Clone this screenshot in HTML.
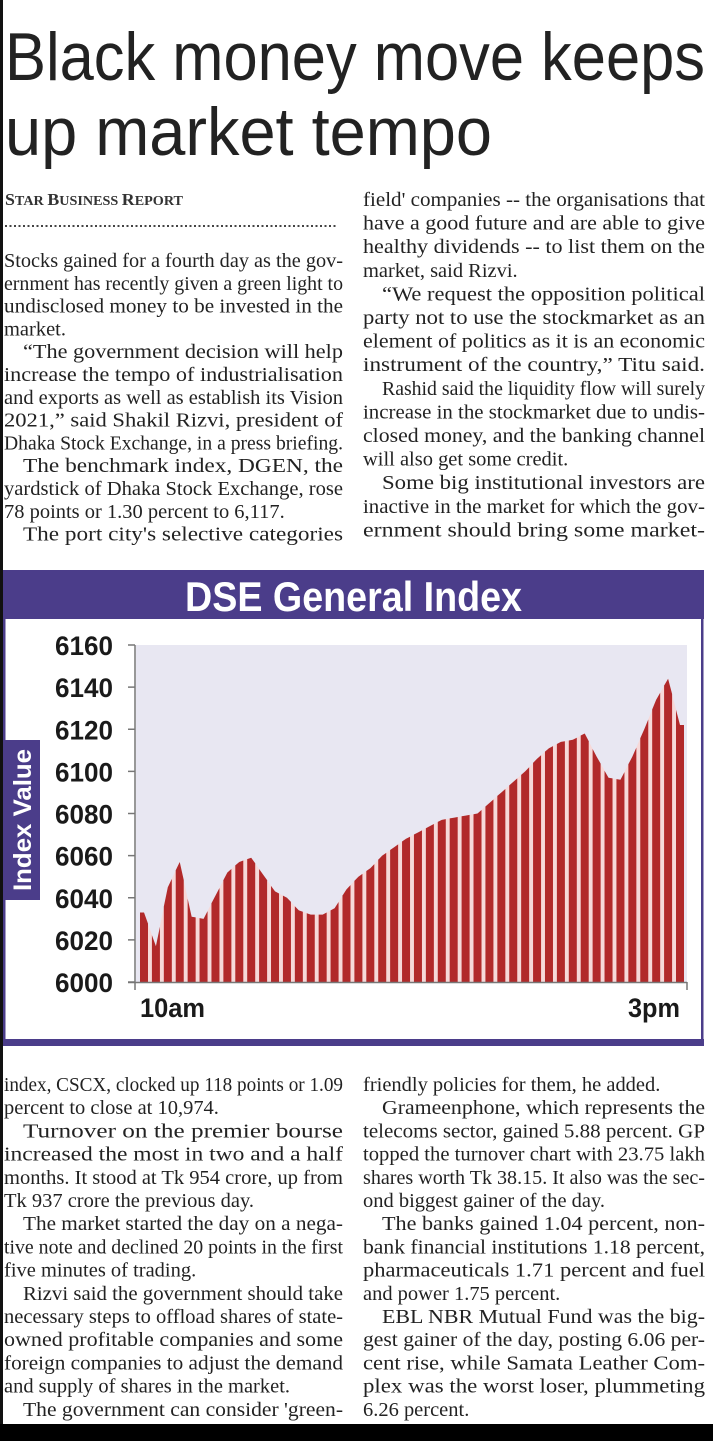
<!DOCTYPE html>
<html><head><meta charset="utf-8"><style>
html,body{margin:0;padding:0;background:#fff;}
svg{display:block;}
.b{font-family:"Liberation Serif",serif;font-size:19.5px;fill:#222;}
.yl{font-family:"Liberation Sans",sans-serif;font-weight:bold;font-size:27px;fill:#1a1a1a;}
</style></head><body>
<svg id="page" width="713" height="1441" viewBox="0 0 713 1441" xmlns="http://www.w3.org/2000/svg">
<rect x="0" y="0" width="3" height="1441" fill="#111"/>
<rect x="0" y="1424" width="713" height="17" fill="#000"/>
<g font-family="'Liberation Sans',sans-serif" fill="#222">
<text x="5" y="80" font-size="68" font-weight="300" textLength="700" lengthAdjust="spacingAndGlyphs">Black money move keeps</text>
<text x="5" y="155" font-size="68" font-weight="300" textLength="487" lengthAdjust="spacingAndGlyphs">up market tempo</text>
</g>
<text x="5" y="205" font-family="'Liberation Serif',serif" font-weight="bold" fill="#333" font-size="17" textLength="178" lengthAdjust="spacingAndGlyphs">S<tspan font-size="13.5">TAR </tspan>B<tspan font-size="13.5">USINESS </tspan>R<tspan font-size="13.5">EPORT</tspan></text>
<line x1="5" y1="226" x2="338" y2="226" stroke="#444" stroke-width="2" stroke-dasharray="2 2.5"/>
<g id="text"></g>

<g id="chart">
<rect x="3" y="570" width="701" height="476" fill="#fff"/>
<rect x="3" y="570" width="2.5" height="476" fill="#4b3d8a"/>
<rect x="701" y="570" width="2.5" height="476" fill="#4b3d8a"/>
<rect x="3" y="570" width="701" height="49" fill="#4b3d8a"/>
<text x="185" y="611" font-family="'Liberation Sans',sans-serif" font-weight="bold" font-size="42" fill="#fff" textLength="337" lengthAdjust="spacingAndGlyphs">DSE General Index</text>
<rect x="3" y="1039" width="701" height="7" fill="#4b3d8a"/>
<rect x="5" y="740" width="35" height="160" fill="#4b3d8a"/>
<text transform="translate(31,820) rotate(-90)" text-anchor="middle" font-family="'Liberation Sans',sans-serif" font-weight="bold" font-size="25" fill="#fff" textLength="142" lengthAdjust="spacingAndGlyphs">Index Value</text>
<rect x="136" y="645" width="551" height="337" fill="#e8e7f2"/>
<g id="marks"></g>
<g id="axes"></g>
<text x="140" y="1017" font-family="'Liberation Sans',sans-serif" font-weight="bold" font-size="27" fill="#1a1a1a" textLength="65" lengthAdjust="spacingAndGlyphs">10am</text>
<text x="628" y="1017" font-family="'Liberation Sans',sans-serif" font-weight="bold" font-size="27" fill="#1a1a1a" textLength="52" lengthAdjust="spacingAndGlyphs">3pm</text>
</g>
</svg>
<script>
const yTicks = [6000, 6020, 6040, 6060, 6080, 6100, 6120, 6140, 6160];
const values = [6033, 6017, 6045, 6057, 6031, 6030, 6041, 6052, 6057, 6059, 6051, 6043, 6040, 6034, 6032, 6032, 6035, 6044, 6050, 6054, 6060, 6064, 6068, 6071, 6074, 6077, 6078, 6079, 6080, 6085, 6090, 6095, 6100, 6106, 6111, 6114, 6115, 6118, 6107, 6097, 6096, 6107, 6120, 6134, 6144, 6122];

const NS = "http://www.w3.org/2000/svg";
const yMin = 6000, yMax = 6160, pTop = 645, pBot = 982;
function y(v){ return pBot - (v - yMin) / (yMax - yMin) * (pBot - pTop); }
const x0 = 144, x1 = 680;
function x(i){ return x0 + i * (x1 - x0) / (values.length - 1); }
function mk(tag, attrs){ const e = document.createElementNS(NS, tag); for (const k in attrs) e.setAttribute(k, attrs[k]); return e; }

const marks = document.getElementById('marks');
let pts = [x(0)-4 + ',' + pBot];
values.forEach((v,i)=>{ pts.push(x(i) + ',' + y(v)); });
pts.push(x(values.length-1)+4 + ',' + pBot);
const under = mk('polygon', {points: pts.join(' '), fill: '#f6d9d9'});


marks.appendChild(under);
values.forEach((v,i)=>{
  const prev = i > 0 ? values[i-1] : v, next = i < values.length-1 ? values[i+1] : v;
  const vl = v + (prev - v) * 0.33, vr = v + (next - v) * 0.33;
  const cx = x(i), w = 4;
  const p = mk('polygon', {points: `${cx-w},${pBot} ${cx-w},${y(vl)} ${cx},${y(v)} ${cx+w},${y(vr)} ${cx+w},${pBot}`, fill: '#b1292a'});
  
  
  marks.appendChild(p);
});
const axes = document.getElementById('axes');
axes.appendChild(mk('line', {x1:135, y1:pTop, x2:135, y2:990, stroke:'#777', 'stroke-width':1.5}));
axes.appendChild(mk('line', {x1:128, y1:pBot+0.5, x2:687, y2:pBot+0.5, stroke:'#777', 'stroke-width':1.5}));
axes.appendChild(mk('line', {x1:687, y1:pBot, x2:687, y2:990, stroke:'#777', 'stroke-width':1.5}));
yTicks.forEach(t=>{
  axes.appendChild(mk('line', {x1:128, y1:y(t), x2:135, y2:y(t), stroke:'#777', 'stroke-width':1.5}));
  const tx = mk('text', {x:113, y:y(t)+10, 'text-anchor':'end', class:'yl', textLength:58, lengthAdjust:'spacingAndGlyphs'});
  tx.textContent = t;
  
  
  axes.appendChild(tx);
});

const colUL = [["Stocks gained for a fourth day as the gov-",0,1],["ernment has recently given a green light to",0,1],["undisclosed money to be invested in the",0,1],["market.",0,0],["“The government decision will help",1,1],["increase the tempo of industrialisation",0,1],["and exports as well as establish its Vision",0,1],["2021,” said Shakil Rizvi, president of",0,1],["Dhaka Stock Exchange, in a press briefing.",0,1],["The benchmark index, DGEN, the",1,1],["yardstick of Dhaka Stock Exchange, rose",0,1],["78 points or 1.30 percent to 6,117.",0,0],["The port city's selective categories",1,1]];
const colUR = [["field' companies -- the organisations that",0,1],["have a good future and are able to give",0,1],["healthy dividends -- to list them on the",0,1],["market, said Rizvi.",0,0],["“We request the opposition political",1,1],["party not to use the stockmarket as an",0,1],["element of politics as it is an economic",0,1],["instrument of the country,” Titu said.",0,1],["Rashid said the liquidity flow will surely",1,1],["increase in the stockmarket due to undis-",0,1],["closed money, and the banking channel",0,1],["will also get some credit.",0,0],["Some big institutional investors are",1,1],["inactive in the market for which the gov-",0,1],["ernment should bring some market-",0,1]];
const colLL = [["index, CSCX, clocked up 118 points or 1.09",0,1],["percent to close at 10,974.",0,0],["Turnover on the premier bourse",1,1],["increased the most in two and a half",0,1],["months. It stood at Tk 954 crore, up from",0,1],["Tk 937 crore the previous day.",0,0],["The market started the day on a nega-",1,1],["tive note and declined 20 points in the first",0,1],["five minutes of trading.",0,0],["Rizvi said the government should take",1,1],["necessary steps to offload shares of state-",0,1],["owned profitable companies and some",0,1],["foreign companies to adjust the demand",0,1],["and supply of shares in the market.",0,0],["The government can consider 'green-",1,1]];
const colLR = [["friendly policies for them, he added.",0,0],["Grameenphone, which represents the",1,1],["telecoms sector, gained 5.88 percent. GP",0,1],["topped the turnover chart with 23.75 lakh",0,1],["shares worth Tk 38.15. It also was the sec-",0,1],["ond biggest gainer of the day.",0,0],["The banks gained 1.04 percent, non-",1,1],["bank financial institutions 1.18 percent,",0,1],["pharmaceuticals 1.71 percent and fuel",0,1],["and power 1.75 percent.",0,0],["EBL NBR Mutual Fund was the big-",1,1],["gest gainer of the day, posting 6.06 per-",0,1],["cent rise, while Samata Leather Com-",0,1],["plex was the worst loser, plummeting",0,1],["6.26 percent.",0,0]];
const tg = document.getElementById('text');
function col(lines, left, right, base, step, name){
  lines.forEach((l,i)=>{
    const xs = left + (l[1] ? 19 : 0);
    const t = mk('text', {x: xs, y: base + i*step, class: 'b'});
    t.textContent = l[0];
    
    
    tg.appendChild(t);
    if (l[2]) { t.setAttribute('textLength', right - xs); }
    else { const n = t.getComputedTextLength(); t.setAttribute('textLength', Math.min(n * 1.05, right - xs)); }
    t.setAttribute('lengthAdjust', 'spacingAndGlyphs');
  });
}
col(colUL, 4, 343, 267, 22.8, 'upper-left');
col(colUR, 363, 705, 206, 23.6, 'upper-right');
col(colLL, 4, 343, 1091, 23.2, 'lower-left');
col(colLR, 363, 705, 1091, 23.2, 'lower-right');
</script>
</body></html>
